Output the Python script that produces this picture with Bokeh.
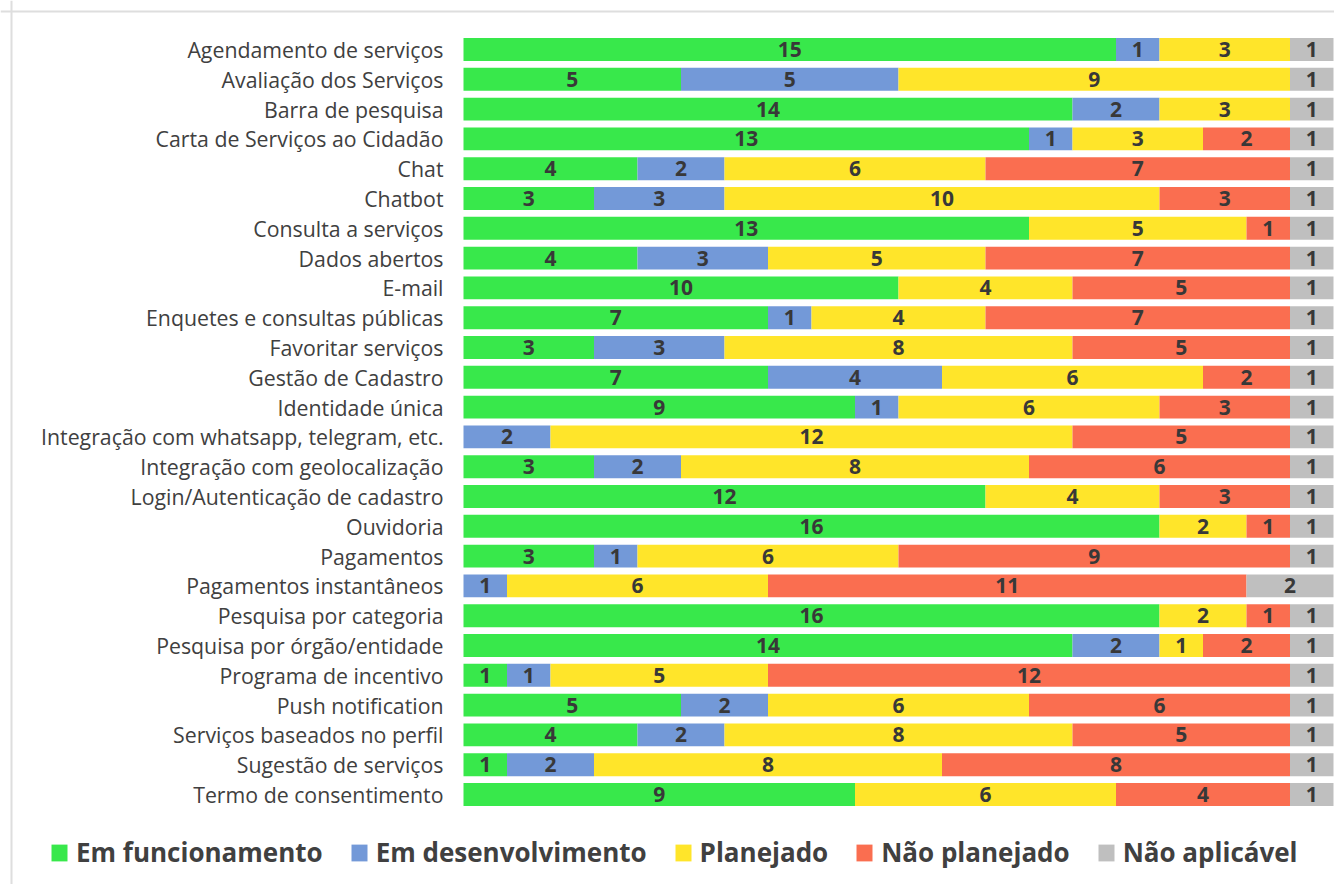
from bokeh.plotting import figure
from bokeh.models import ColumnDataSource, Range1d, Legend, Span
from bokeh.core.properties import value
from bokeh.embed import file_html
from bokeh.resources import INLINE

categories = [
    "Agendamento de serviços",
    "Avaliação dos Serviços",
    "Barra de pesquisa",
    "Carta de Serviços ao Cidadão",
    "Chat",
    "Chatbot",
    "Consulta a serviços",
    "Dados abertos",
    "E-mail",
    "Enquetes e consultas públicas",
    "Favoritar serviços",
    "Gestão de Cadastro",
    "Identidade única",
    "Integração com whatsapp, telegram, etc.",
    "Integração com geolocalização",
    "Login/Autenticação de cadastro",
    "Ouvidoria",
    "Pagamentos",
    "Pagamentos instantâneos",
    "Pesquisa por categoria",
    "Pesquisa por órgão/entidade",
    "Programa de incentivo",
    "Push notification",
    "Serviços baseados no perfil",
    "Sugestão de serviços",
    "Termo de consentimento",
]

em_funcionamento = [15, 5, 14, 13, 4, 3, 13, 4, 10, 7, 3, 7, 9, 0, 3, 12, 16, 3, 0, 16, 14, 1, 5, 4, 1, 9]
em_desenvolvimento = [1, 5, 2, 1, 2, 3, 0, 3, 0, 1, 3, 4, 1, 2, 2, 0, 0, 1, 1, 0, 2, 1, 2, 2, 2, 0]
planejado = [3, 9, 3, 3, 6, 10, 5, 5, 4, 4, 8, 6, 6, 12, 8, 4, 2, 6, 6, 2, 1, 5, 6, 8, 8, 6]
nao_planejado = [0, 0, 0, 2, 7, 3, 1, 7, 5, 7, 5, 2, 3, 5, 6, 3, 1, 9, 11, 1, 2, 12, 6, 5, 8, 4]
nao_aplicavel = [1, 1, 1, 1, 1, 1, 1, 1, 1, 1, 1, 1, 1, 1, 1, 1, 1, 1, 2, 1, 1, 1, 1, 1, 1, 1]

series_names = ["Em funcionamento", "Em desenvolvimento", "Planejado", "Não planejado", "Não aplicável"]
series_keys = ["f", "d", "p", "n", "a"]
series_values = [em_funcionamento, em_desenvolvimento, planejado, nao_planejado, nao_aplicavel]
colors = ["#38E84B", "#7399D8", "#FFE52A", "#FA6E50", "#BFBFBF"]

# layout constants (pixels)
W, H = 1334, 884
UNIT_X = 43.5      # px per count
ROW = 29.8         # px per row
X0_PX = 463        # px from frame left to value 0
Y0_PX = 49         # px from frame top to first row centre

row_pos = list(range(len(categories)))
data = {"cat": categories, "pos": row_pos}
for k, v in zip(series_keys, series_values):
    data[k] = v
source = ColumnDataSource(data)

x_start = -X0_PX / UNIT_X
x_end = x_start + W / UNIT_X
y_top = -Y0_PX / ROW
y_bottom = y_top + H / ROW

p = figure(
    width=W, height=H,
    x_range=Range1d(x_start, x_end),
    y_range=Range1d(y_bottom, y_top),
    output_backend="svg", toolbar_location=None,
    min_border=0,
)
p.axis.visible = False
p.grid.visible = False
p.outline_line_color = None

renderers = p.hbar_stack(series_keys, y="pos", height=0.77, color=colors, source=source,
                         line_color=None)

# category labels
p.text(x=0, y="pos", text="cat", source=source, x_offset=-20,
       text_align="right", text_baseline="middle",
       text_font=value("Open Sans"), text_font_size="21.3px", text_color="#404040")

# value labels
lx, ly, lt = [], [], []
for i in range(len(categories)):
    cum = 0
    for vals in series_values:
        v = vals[i]
        if v > 0:
            lx.append(cum + v / 2)
            ly.append(row_pos[i])
            lt.append(str(v))
        cum += v
p.text(x=lx, y=ly, text=lt, text_align="center", text_baseline="middle",
       text_font=value("Open Sans"), text_font_style="bold", text_font_size="21px",
       text_color="#383838")

# light chart border (left and top)
p.add_layout(Span(location=x_start + 11 / UNIT_X, dimension="height",
                  line_color="#DEDEDE", line_width=2))
p.add_layout(Span(location=y_top + 11 / ROW, dimension="width",
                  line_color="#DEDEDE", line_width=2))

legend = Legend(items=[(n, [r]) for n, r in zip(series_names, renderers)],
                location=(49, 14), orientation="horizontal",
                glyph_width=20, glyph_height=21, label_standoff=7, spacing=26,
                padding=0, margin=0, border_line_color=None, background_fill_alpha=0,
                label_text_font="Open Sans", label_text_font_size="26px",
                label_text_font_style="bold", label_text_color="#404040")
p.add_layout(legend, "center")

open("out.html", "w").write(file_html(p, INLINE))
